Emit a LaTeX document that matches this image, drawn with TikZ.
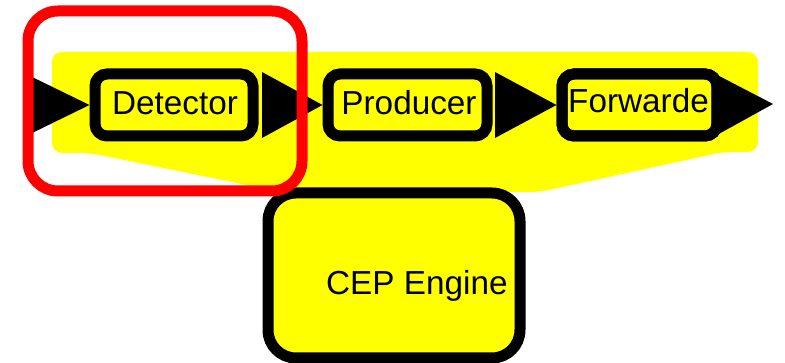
\documentclass[tikz,border=0pt]{standalone}
\usepackage{fontspec}
\setmainfont{Liberation Sans}
\usetikzlibrary{calc}
\definecolor{ylw}{RGB}{255,255,0}
\definecolor{rd}{RGB}{255,0,0}
\tikzset{
  stage/.style={draw=black, line width=11pt, fill=ylw, rounded corners=12pt,
    minimum height=62pt, inner sep=0pt},
  lbl/.style={font=\fontsize{33.3}{40}\selectfont, inner sep=0pt, anchor=base},
  tri/.style={fill=black},
}
\begin{document}
\begin{tikzpicture}[x=1pt,y=-1pt]
\useasboundingbox (0,0) rectangle (785,363);
% yellow background group
\fill[ylw, rounded corners=10pt] (52,52) -- (758,52) -- (758,152) -- (723,152) -- (540,192) -- (281,192) -- (90,153) -- (52,153) -- cycle;
% stage boxes
\node[stage, minimum width=158pt] (det) at (174,105) {};
\node[stage, minimum width=159pt] (prod) at (407.5,105) {};
\coordinate (in) at (28,105);
\coordinate (out) at (773,104);
% arrows
\fill[tri] ($(in)+(0,-30)$) -- ($(in)+(0,30)$) -- (det.west) -- cycle;
\fill[tri] ($(det.east)+(3.5,-33)$) -- ($(det.east)+(3.5,33)$) -- (prod.west) -- cycle;
\node[stage, minimum width=155pt] (fwd) at (639.5,105) {};
\fill[tri] ($(prod.east)+(2.5,-33)$) -- ($(prod.east)+(2.5,33)$) -- (fwd.west) -- cycle;
\fill[tri] ($(fwd.east)+(-11,-33)$) -- ($(fwd.east)+(-11,33)$) -- (out) -- cycle;
\node[stage, minimum width=155pt, fill=none] at (fwd.center) {};
% labels
\node[lbl] (detl) at (175,115) {Detector};
\node[lbl] (prodl) at (409,115) {Producer};
\begin{scope}
  \clip (567,80) rectangle (708,130);
  \node[lbl, anchor=base west] (fwdl) at (568,113) {Forwarder};
\end{scope}
% CEP engine
\node[stage, rounded corners=28pt, minimum width=252pt, minimum height=165pt] (cep) at (394,275.5) {};
\node[lbl, anchor=base west] (cepl) at (326,295) {CEP Engine};
% red highlight
\draw[rd, line width=11pt, rounded corners=30pt] (28,11) rectangle (302,191);
\end{tikzpicture}
\end{document}
